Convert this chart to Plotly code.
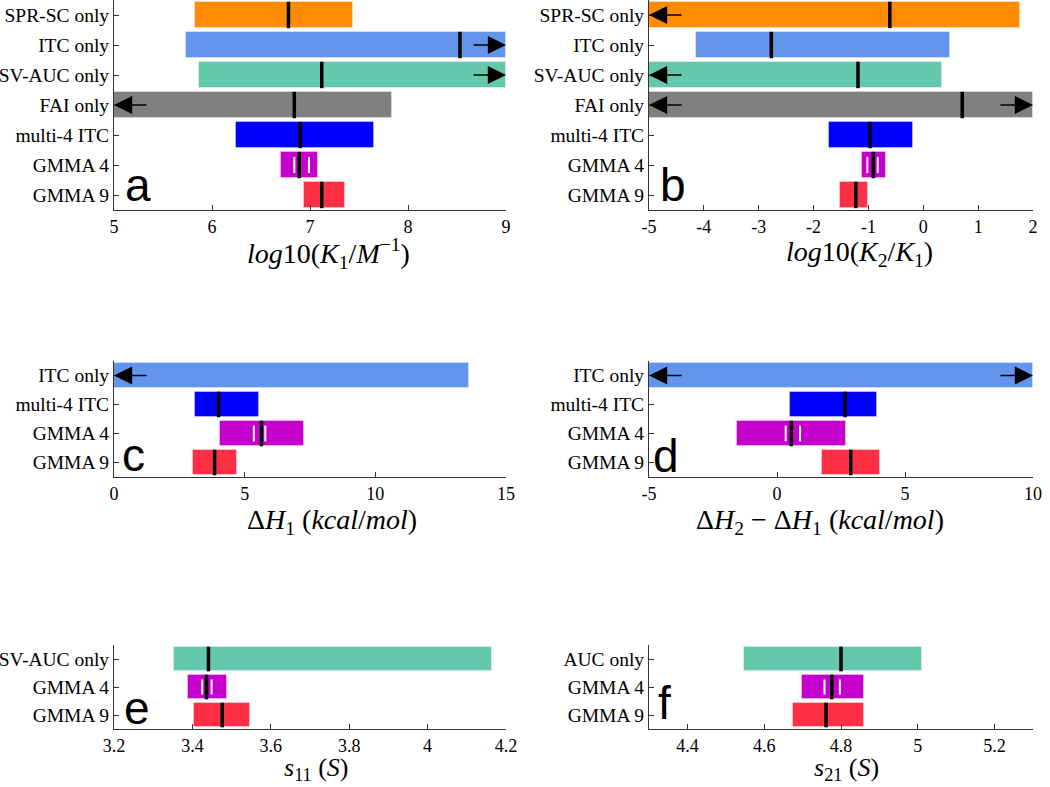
import plotly.graph_objects as go

# ---------------- data ----------------
a_labels = ["SPR-SC only", "ITC only", "SV-AUC only", "FAI only", "multi-4 ITC", "GMMA 4", "GMMA 9"]
a_lo = [5.83, 5.73, 5.87, None, 6.24, 6.70, 6.94]
a_hi = [7.44, None, None, 7.84, 7.65, 7.08, 7.36]
a_mean = [6.78, 8.53, 7.12, 6.84, 6.90, 6.89, 7.12]
a_inner = [6.84, 6.99]

b_labels = a_labels
b_lo = [None, -4.14, None, None, -1.72, -1.125, -1.51]
b_hi = [1.77, 0.49, 0.34, None, -0.18, -0.68, -1.00]
b_mean = [-0.61, -2.77, -1.19, 0.71, -0.97, -0.91, -1.23]
b_inner = [-1.02, -0.83]

c_labels = ["ITC only", "multi-4 ITC", "GMMA 4", "GMMA 9"]
c_lo = [None, 3.11, 4.04, 3.03]
c_hi = [13.58, 5.55, 7.28, 4.69]
c_mean = [None, 4.00, 5.64, 3.85]
c_inner = [5.35, 5.79]

d_labels = c_labels
d_lo = [None, 0.52, -1.56, 1.77]
d_hi = [None, 3.90, 2.68, 4.02]
d_mean = [None, 2.66, 0.56, 2.88]
d_inner = [0.34, 0.90]

e_labels = ["SV-AUC only", "GMMA 4", "GMMA 9"]
e_lo = [3.353, 3.388, 3.404]
e_hi = [4.163, 3.488, 3.547]
e_mean = [3.441, 3.436, 3.476]
e_inner = [3.425, 3.449]

f_labels = ["AUC only", "GMMA 4", "GMMA 9"]
f_lo = [4.547, 4.699, 4.674]
f_hi = [5.010, 4.859, 4.859]
f_mean = [4.80, 4.776, 4.761]
f_inner = [4.757, 4.797]

colors = {
    "SPR-SC only": "#FF8C00",
    "ITC only": "#6495ED",
    "SV-AUC only": "#64C8AA",
    "AUC only": "#64C8AA",
    "FAI only": "#808080",
    "multi-4 ITC": "#0000FF",
    "GMMA 4": "#C600CC",
    "GMMA 9": "#FF3046",
}

ranges = {
    "a": [5, 9], "b": [-5, 2], "c": [0, 15], "d": [-5, 10], "e": [3.2, 4.2], "f": [4.3, 5.3],
}
tickvals_x = {
    "a": [5, 6, 7, 8, 9], "b": [-5, -4, -3, -2, -1, 0, 1, 2], "c": [0, 5, 10, 15],
    "d": [-5, 0, 5, 10], "e": [3.2, 3.4, 3.6, 3.8, 4.0, 4.2], "f": [4.4, 4.6, 4.8, 5.0, 5.2],
}
ticktext_x = {
    "a": ["5", "6", "7", "8", "9"], "b": ["-5", "-4", "-3", "-2", "-1", "0", "1", "2"],
    "c": ["0", "5", "10", "15"], "d": ["-5", "0", "5", "10"],
    "e": ["3.2", "3.4", "3.6", "3.8", "4", "4.2"], "f": ["4.4", "4.6", "4.8", "5", "5.2"],
}
xtitles = {
    "a": "<i>log</i>10(<i>K</i><sub>1</sub>/<i>M</i><sup>−1</sup>)",
    "b": "<i>log</i>10(<i>K</i><sub>2</sub>/<i>K</i><sub>1</sub>)",
    "c": "Δ<i>H</i><sub>1</sub> (<i>kcal</i>/<i>mol</i>)",
    "d": "Δ<i>H</i><sub>2</sub> − Δ<i>H</i><sub>1</sub> (<i>kcal</i>/<i>mol</i>)",
    "e": "<i>s</i><sub>11</sub> (<i>S</i>)",
    "f": "<i>s</i><sub>21</sub> (<i>S</i>)",
}

panels = {
    "a": (a_labels, a_lo, a_hi, a_mean, a_inner),
    "b": (b_labels, b_lo, b_hi, b_mean, b_inner),
    "c": (c_labels, c_lo, c_hi, c_mean, c_inner),
    "d": (d_labels, d_lo, d_hi, d_mean, d_inner),
    "e": (e_labels, e_lo, e_hi, e_mean, e_inner),
    "f": (f_labels, f_lo, f_hi, f_mean, f_inner),
}

# ---------------- layout geometry (pixels) ----------------
W, H = 1050, 787
xdom_px = {"L": (114, 506), "R": (649, 1033)}
ydom_px = {1: (0, 210), 2: (361, 477), 3: (645, 729)}
placement = {"a": ("L", 1), "b": ("R", 1), "c": ("L", 2), "d": ("R", 2), "e": ("L", 3), "f": ("R", 3)}
title_pos = {"a": (0.548, 253), "b": (0.549, 253), "c": (0.555, 521), "d": (0.445, 521),
             "e": (0.515, 769), "f": (0.515, 769)}
title_size = {"a": 28, "b": 28, "c": 28, "d": 28, "e": 26, "f": 26}
letter_pos = {"a": (0.062, 0.12), "b": (0.062, 0.12), "c": (0.05, 0.19), "d": (0.045, 0.18),
              "e": (0.058, 0.25), "f": (0.04, 0.31)}

SERIF = "Liberation Serif"
fig = go.Figure()
layout = dict(width=W, height=H, margin=dict(l=0, r=0, t=0, b=0, autoexpand=False),
              plot_bgcolor="white", paper_bgcolor="white", showlegend=False, bargap=0)
annotations = []
BW = 0.88

for k, key in enumerate(["a", "b", "c", "d", "e", "f"]):
    labels, lo, hi, mean, inner = panels[key]
    xmin, xmax = ranges[key]
    n = len(labels)
    idx = list(range(1, n + 1))
    side, row = placement[key]
    xa = "x" if k == 0 else f"x{k+1}"
    ya = "y" if k == 0 else f"y{k+1}"
    lo_v = [xmin if v is None else v for v in lo]
    hi_v = [xmax if v is None else v for v in hi]
    fig.add_trace(go.Bar(
        orientation="h", y=idx, base=lo_v, x=[h - l for h, l in zip(hi_v, lo_v)],
        width=BW, marker=dict(color=[colors[l] for l in labels],
                              line=dict(color="rgba(255,255,255,0.35)", width=1)),
        xaxis=xa, yaxis=ya, hoverinfo="skip"))
    # mean lines
    mx, my = [], []
    for i, m in zip(idx, mean):
        if m is None:
            continue
        mx += [m, m, None]
        my += [i - BW / 2, i + BW / 2, None]
    # inner white lines for GMMA 4
    g4 = labels.index("GMMA 4") + 1
    wx, wy = [], []
    for v in inner:
        wx += [v, v, None]
        wy += [g4 - 0.27, g4 + 0.27, None]
    fig.add_trace(go.Scatter(x=wx, y=wy, mode="lines", line=dict(color="white", width=2),
                             xaxis=xa, yaxis=ya, hoverinfo="skip"))
    fig.add_trace(go.Scatter(x=mx, y=my, mode="lines", line=dict(color="black", width=3.5),
                             xaxis=xa, yaxis=ya, hoverinfo="skip"))
    # arrows for unbounded intervals
    for i, l, h in zip(idx, lo, hi):
        if l is None:
            annotations.append(dict(x=xmin, y=i, xref=xa, yref=ya, ax=34, ay=0, text="",
                                    showarrow=True, arrowhead=2, arrowsize=2.8, arrowwidth=1.3,
                                    arrowcolor="black", standoff=0))
        if h is None:
            annotations.append(dict(x=xmax, y=i, xref=xa, yref=ya, ax=-34, ay=0, text="",
                                    showarrow=True, arrowhead=2, arrowsize=2.8, arrowwidth=1.3,
                                    arrowcolor="black", standoff=0))
    x0, x1 = xdom_px[side]
    y0, y1 = ydom_px[row]
    axname_x = "xaxis" if k == 0 else f"xaxis{k+1}"
    axname_y = "yaxis" if k == 0 else f"yaxis{k+1}"
    layout[axname_x] = dict(domain=[x0 / W, x1 / W], range=[xmin, xmax], anchor=ya,
                            tickvals=tickvals_x[key], ticktext=ticktext_x[key], automargin=False,
                            ticks="inside", ticklen=5, tickcolor="#333", showgrid=False,
                            zeroline=False, showline=True, linecolor="#333", linewidth=1,
                            tickfont=dict(family=SERIF, size=18, color="black"))
    layout[axname_y] = dict(domain=[1 - y1 / H, 1 - y0 / H], range=[n + 0.5, 0.5], anchor=xa,
                            tickvals=idx, ticktext=labels, ticks="inside", ticklen=5,
                            automargin=False,
                            tickcolor="#333", showgrid=False, zeroline=False, showline=True,
                            linecolor="#333", linewidth=1,
                            tickfont=dict(family=SERIF, size=19.5, color="black"))
    # axis title
    tx, ty = title_pos[key]
    annotations.append(dict(x=tx, y=1 - ty / H, xref=f"{xa} domain", yref="paper",
                            text=xtitles[key], showarrow=False, xanchor="center", yanchor="middle",
                            font=dict(family=SERIF, size=title_size[key], color="black")))
    # panel letter
    lx, ly = letter_pos[key]
    annotations.append(dict(x=lx, y=ly, xref=f"{xa} domain", yref=f"{ya} domain",
                            text=key, showarrow=False, xanchor="center", yanchor="middle",
                            font=dict(family="Liberation Sans", size=46, color="black")))

layout["annotations"] = annotations
fig.update_layout(**layout)
fig.write_html("out.html", config={"displayModeBar": False},
               post_script="document.body.style.margin='0';document.body.style.padding='0';")
